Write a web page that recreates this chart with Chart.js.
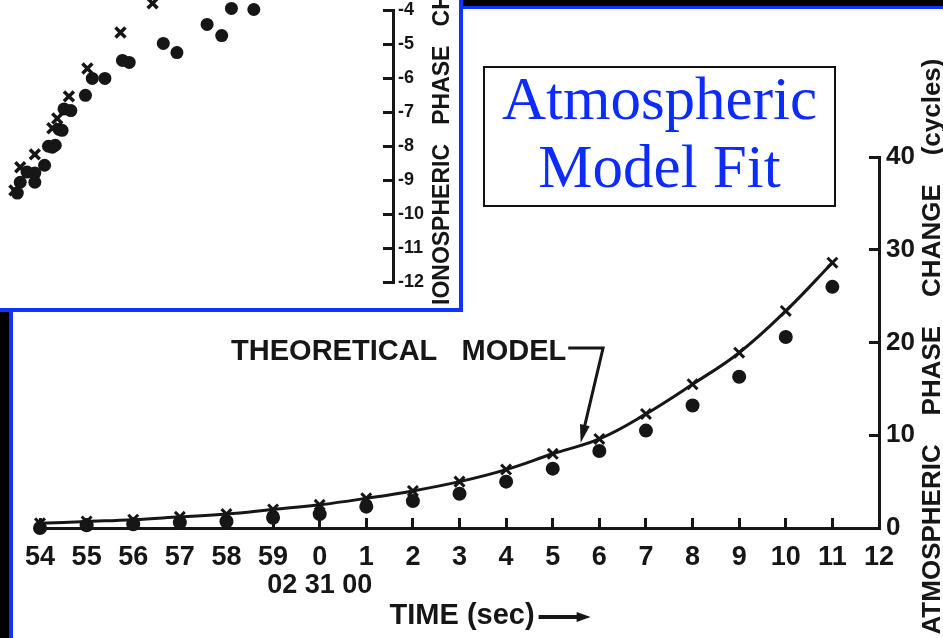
<!DOCTYPE html>
<html>
<head>
<meta charset="utf-8">
<script src="https://cdn.jsdelivr.net/npm/chart.js@4.4.1/dist/chart.umd.min.js"></script>
<style>
  html, body { margin: 0; padding: 0; background: #fff; }
  body { width: 943px; height: 638px; position: relative; overflow: hidden; }
  .band { position: absolute; }
  #mainChart { position: absolute; left: 0; top: 0; }
  #inset { position: absolute; left: 0; top: 0; width: 459px; height: 308px; background: #fff;
           border-right: 4px solid #1432ff; border-bottom: 4px solid #1432ff; }
  #fitBox { position: absolute; left: 483px; top: 66px; width: 349px; height: 137px;
            border: 2px solid #111; background: #fff; text-align: center;
            font-family: "Liberation Serif", serif; font-size: 61px; line-height: 68px; color: #0b2bff; }
  #fitBox div { margin-top: -3px; }
</style>
</head>
<body>
<div class="band" style="left:0;top:0;width:943px;height:6px;background:#000"></div>
<div class="band" style="left:0;top:6px;width:943px;height:3px;background:#1432ff"></div>
<div class="band" style="left:0;top:0;width:9px;height:638px;background:#000"></div>
<div class="band" style="left:9px;top:9px;width:4px;height:629px;background:#1432ff"></div>

<canvas id="mainChart" width="943" height="638"></canvas>
<div id="inset"><canvas id="insetChart" width="459" height="308"></canvas></div>
<div id="fitBox"><div>Atmospheric<br>Model Fit</div></div>

<script>
// Main plot: time axis (seconds around 02 31 00) and atmospheric phase change (cycles)
var timeLabels = ['54', '55', '56', '57', '58', '59', ['0', '02 31 00'], '1', '2', '3', '4', '5', '6', '7', '8', '9', '10', '11', '12'];
var theoryCycles = [0.5, 0.7, 0.9, 1.2, 1.5, 2.0, 2.5, 3.2, 4.0, 5.0, 6.3, 8.0, 9.6, 12.3, 15.5, 18.9, 23.4, 28.6];
var measuredCycles = [0.0, 0.3, 0.4, 0.6, 0.7, 1.1, 1.5, 2.3, 2.9, 3.7, 5.0, 6.4, 8.3, 10.5, 13.2, 16.3, 20.6, 26.0];

// Inset plot: ionospheric phase change (x axis not shown in the picture)
var insetCrossT = [14.6, 11.3, 7.9, 6.0, 4.8, 4.3, 2.5, 1.0, 0.4];
var insetCrossV = [-3.79, -4.65, -5.71, -6.53, -7.18, -7.47, -8.24, -8.62, -9.3];
var insetDotT = [25.0, 22.7, 21.7, 20.2, 17.1, 15.7, 12.2, 11.5, 9.7, 8.4, 7.7, 6.2, 5.5, 5.0, 5.3, 4.6, 4.3, 3.9, 3.5, 2.5, 2.5, 1.7, 1.0, 0.7];
var insetDotV = [-3.97, -3.94, -4.74, -4.41, -5.24, -4.97, -5.53, -5.47, -6.0, -6.0, -6.5, -6.95, -6.9, -7.5, -7.53, -7.97, -8.03, -8.0, -8.56, -8.79, -9.06, -8.76, -9.06, -9.38];

var ink = '#161616';
var boldFont = '"Liberation Sans", Arial, sans-serif';

function toPoints(xs, ys) {
    var pts = [];
    for (var i = 0; i < xs.length; i++) {
        pts.push({ x: xs[i], y: ys[i] });
    }
    return pts;
}

function arrowHead(ctx, fromX, fromY, toX, toY, len, half) {
    var a = Math.atan2(toY - fromY, toX - fromX);
    ctx.beginPath();
    ctx.moveTo(toX, toY);
    ctx.lineTo(toX - len * Math.cos(a) + half * Math.sin(a), toY - len * Math.sin(a) - half * Math.cos(a));
    ctx.lineTo(toX - len * Math.cos(a) - half * Math.sin(a), toY - len * Math.sin(a) + half * Math.cos(a));
    ctx.closePath();
    ctx.fill();
}

// titles and the "theoretical model" callout
var mainNotes = {
    id: 'mainNotes',
    afterDraw: function (chart) {
        var ctx = chart.ctx, xs = chart.scales.x, ys = chart.scales.y;
        ctx.save();
        ctx.fillStyle = ink;
        ctx.strokeStyle = ink;

        // y title, reading upward
        ctx.save();
        ctx.translate(ys.left + 54, (ys.top + ys.bottom) / 2 + 4);
        ctx.rotate(-Math.PI / 2);
        ctx.font = 'bold 26px ' + boldFont;
        ctx.textAlign = 'center';
        ctx.textBaseline = 'middle';
        ctx.fillText('ATMOSPHERIC    PHASE    CHANGE    (cycles)', 0, 0);
        ctx.restore();

        // x title with arrow
        var tx = xs.getPixelForValue(7.5), ty = xs.bottom - 22;
        ctx.font = 'bold 29px ' + boldFont;
        ctx.textAlign = 'left';
        ctx.textBaseline = 'middle';
        ctx.fillText('TIME (sec)', tx, ty);
        var ax = tx + ctx.measureText('TIME (sec)').width + 4;
        ctx.lineWidth = 4;
        ctx.beginPath();
        ctx.moveTo(ax, ty + 1);
        ctx.lineTo(ax + 40, ty + 1);
        ctx.stroke();
        arrowHead(ctx, ax, ty + 1, ax + 52, ty + 1, 14, 5);

        // callout
        var lx = xs.getPixelForValue(4.1), ly = ys.getPixelForValue(19.0);
        ctx.font = 'bold 29px ' + boldFont;
        ctx.fillText('THEORETICAL   MODEL', lx, ly);
        var ex = lx + ctx.measureText('THEORETICAL   MODEL').width + 2;
        var cx = xs.getPixelForValue(12.08), cy = ys.getPixelForValue(19.4);
        var px = xs.getPixelForValue(11.6), py = ys.getPixelForValue(9.2);
        ctx.lineWidth = 3;
        ctx.beginPath();
        ctx.moveTo(ex, cy);
        ctx.lineTo(cx, cy);
        ctx.lineTo(px + (cx - px) * 0.12, py + (cy - py) * 0.12);
        ctx.stroke();
        arrowHead(ctx, cx, cy, px, py, 18, 5);
        ctx.restore();
    }
};

var insetNotes = {
    id: 'insetNotes',
    afterDraw: function (chart) {
        var ctx = chart.ctx, ys = chart.scales.y;
        ctx.save();
        ctx.fillStyle = ink;
        ctx.translate(ys.left + 50, 305);
        ctx.rotate(-Math.PI / 2);
        ctx.font = 'bold 23px ' + boldFont;
        ctx.textAlign = 'left';
        ctx.textBaseline = 'middle';
        ctx.fillText('IONOSPHERIC   PHASE   CHANGE   (cycles)', 0, 0);
        ctx.restore();
    }
};

var mainCtx = document.getElementById('mainChart').getContext('2d');
var mainChart = new Chart(mainCtx, {
    type: 'line',
    data: {
        labels: timeLabels,
        datasets: [
            {
                label: 'Theoretical model',
                data: theoryCycles,
                borderColor: ink,
                borderWidth: 3,
                tension: 0.4,
                pointStyle: 'crossRot',
                pointRadius: 7,
                pointBorderWidth: 3,
                pointBorderColor: ink,
                clip: false
            },
            {
                label: 'Measured',
                data: measuredCycles,
                showLine: false,
                pointStyle: 'circle',
                pointRadius: 7,
                pointBorderWidth: 0,
                pointBackgroundColor: ink,
                clip: false
            }
        ]
    },
    options: {
        responsive: false,
        animation: false,
        layout: { padding: { left: 33, right: 0, top: 157, bottom: 0 } },
        plugins: { legend: { display: false }, tooltip: { enabled: false } },
        scales: {
            x: {
                type: 'category',
                offset: false,
                grid: { display: true, drawOnChartArea: false, drawTicks: true, tickLength: -10, lineWidth: 3, color: ink },
                border: { display: true, width: 3, color: ink },
                ticks: {
                    autoSkip: false, maxRotation: 0, padding: 25, color: ink,
                    font: { family: boldFont, size: 27, weight: 'bold', lineHeight: 1.05 }
                },
                afterFit: function (scale) { scale.height = 110; }
            },
            y: {
                position: 'right',
                min: 0,
                max: 40,
                grid: { display: true, drawOnChartArea: false, drawTicks: true, tickLength: -10, lineWidth: 3, color: ink },
                border: { display: true, width: 3, color: ink },
                ticks: {
                    stepSize: 10, padding: 17, color: ink,
                    font: { family: boldFont, size: 26, weight: 'bold' }
                },
                afterFit: function (scale) { scale.width = 64; }
            }
        }
    },
    plugins: [mainNotes]
});

var insetCtx = document.getElementById('insetChart').getContext('2d');
var insetChart = new Chart(insetCtx, {
    type: 'scatter',
    data: {
        datasets: [
            {
                label: 'x',
                data: toPoints(insetCrossT, insetCrossV),
                pointStyle: 'crossRot',
                pointRadius: 7,
                pointBorderWidth: 3.5,
                pointBorderColor: ink,
                clip: false
            },
            {
                label: 'dot',
                data: toPoints(insetDotT, insetDotV),
                pointStyle: 'circle',
                pointRadius: 6.5,
                pointBorderWidth: 0,
                pointBackgroundColor: ink,
                clip: false
            }
        ]
    },
    options: {
        responsive: false,
        animation: false,
        layout: { padding: { left: 0, right: 0, top: 10, bottom: 26 } },
        plugins: { legend: { display: false }, tooltip: { enabled: false } },
        scales: {
            x: { type: 'linear', min: 0, max: 39.3, display: false },
            y: {
                position: 'right',
                min: -12,
                max: -4,
                grid: { display: true, drawOnChartArea: false, drawTicks: true, tickLength: -10, lineWidth: 3, color: ink },
                border: { display: true, width: 3, color: ink },
                ticks: {
                    stepSize: 1, padding: 15, color: ink,
                    font: { family: boldFont, size: 18, weight: 'bold' }
                },
                afterFit: function (scale) {
                    scale.width = 66;
                    scale.paddingTop = 0;
                    scale.paddingBottom = 0;
                }
            }
        }
    },
    plugins: [insetNotes]
});
</script>
</body>
</html>
